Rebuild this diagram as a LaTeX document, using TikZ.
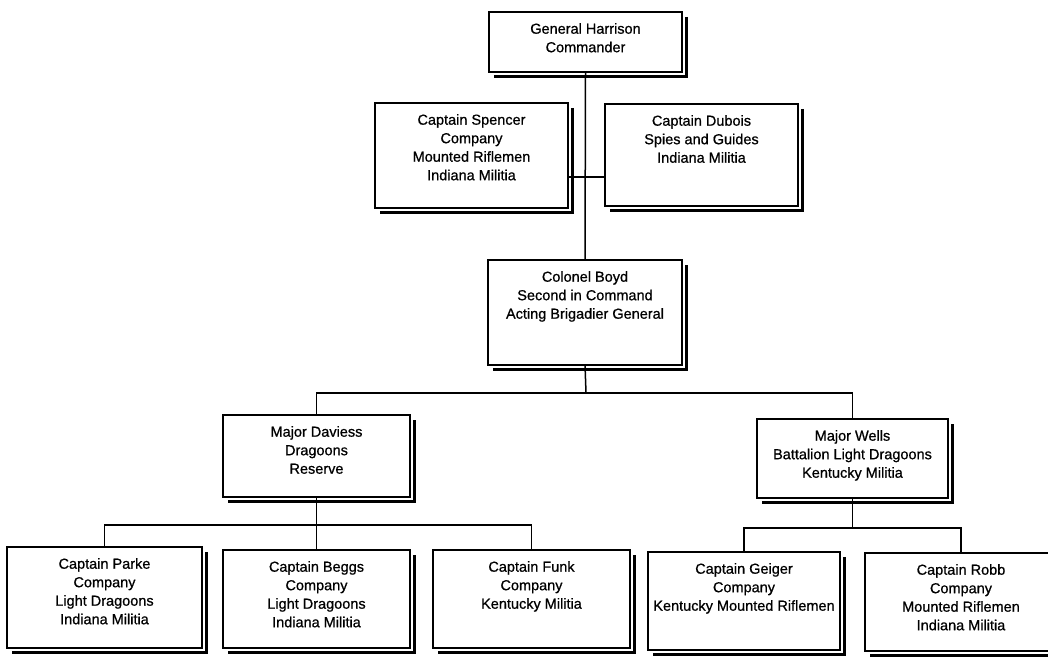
\documentclass[tikz,border=0pt]{standalone}
\usepackage{fontspec}
\setmainfont{Liberation Sans}[FakeBold=0.7]
\usetikzlibrary{calc}
\tikzset{
  orgbox/.style={draw=black, line width=2.6pt, fill=white, inner sep=0pt, outer sep=0pt},
  orgshadow/.style={draw=black, line width=2.6pt},
  orgtxt/.style={align=center, inner sep=0pt, font=\fontsize{14.5}{18.5}\selectfont},
  conn/.style={draw=black, line width=1.5pt}
}
\newcommand\orgbox[6]{%
  \pgfmathsetmacro\bw{#4-#2}\pgfmathsetmacro\bh{#5-#3}%
  \pgfmathsetmacro\bx{(#2+#4)/2}\pgfmathsetmacro\by{(#3+#5)/2}%
  \node[orgbox, minimum width=\bw pt, minimum height=\bh pt] (#1) at (\bx,\by) {};
  \draw[orgshadow] ([shift={(4.5,5)}]#1.north east) -- ([shift={(4.5,4.5)}]#1.south east) -- ([shift={(5,4.5)}]#1.south west);
  \node[orgtxt, anchor=north] (#1-t) at ([yshift=-11pt]#1.north) {#6};
}
\begin{document}
\begin{tikzpicture}[x=1pt, y=-1pt]
\useasboundingbox[fill=white] (0,0) rectangle (1048,658);
\coordinate (j0) at (587,177);
\coordinate (j1) at (586,393);
\coordinate (j2) at (318,525);
\coordinate (j3) at (854,528);
\orgbox{gen}{489}{12}{682}{72}{General Harrison\\Commander}
\orgbox{spencer}{375}{103}{568}{208}{Captain Spencer\\Company\\Mounted Riflemen\\Indiana Militia}
\orgbox{dubois}{605}{104}{798}{206}{Captain Dubois\\Spies and Guides\\Indiana Militia}
\orgbox{boyd}{488}{260}{682}{365}{Colonel Boyd\\Second in Command\\Acting Brigadier General}
\orgbox{daviess}{223}{415}{410}{497}{Major Daviess\\Dragoons\\Reserve}
\orgbox{wells}{757}{419}{948}{498}{Major Wells\\Battalion Light Dragoons\\Kentucky Militia}
\orgbox{parke}{7}{547}{202}{648}{Captain Parke\\Company\\Light Dragoons\\Indiana Militia}
\orgbox{beggs}{223}{550}{410}{648}{Captain Beggs\\Company\\Light Dragoons\\Indiana Militia}
\orgbox{funk}{433}{550}{630}{648}{Captain Funk\\Company\\Kentucky Militia}
\orgbox{geiger}{648}{552}{840}{650}{Captain Geiger\\Company\\Kentucky Mounted Riflemen}
\orgbox{robb}{865}{553}{1057}{651}{Captain Robb\\Company\\Mounted Riflemen\\Indiana Militia}
\draw[conn] (gen.south) -- (boyd.north);
\draw[conn] (spencer.east |- j0) -- (dubois.west |- j0);
\draw[conn] (boyd.south) -- (j1);
\draw[conn] (daviess.north) -- (daviess.north |- j1) -- (wells.north |- j1) -- (wells.north);
\draw[conn] (daviess.south) -- (daviess.south |- j2);
\draw[conn] (parke.north) -- (parke.north |- j2) -- (funk.north |- j2) -- (funk.north);
\draw[conn] (beggs.north) -- (beggs.north |- j2);
\draw[conn] (wells.south) -- (wells.south |- j3);
\draw[conn] (geiger.north) -- (geiger.north |- j3) -- (robb.north |- j3) -- (robb.north);
\end{tikzpicture}
\end{document}
